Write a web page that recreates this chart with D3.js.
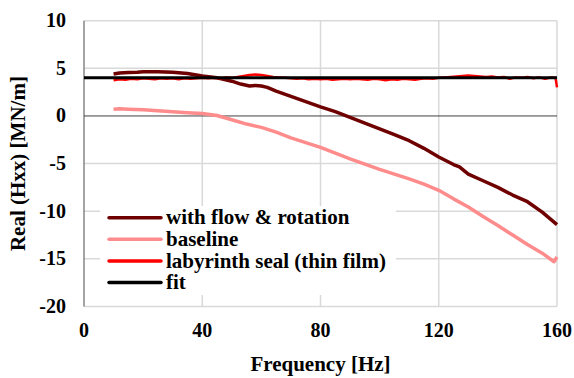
<!DOCTYPE html>
<html>
<head>
<meta charset="utf-8">
<script src="https://cdn.jsdelivr.net/npm/d3@7"></script>
<style>
  body { margin: 0; background: #fff; }
</style>
</head>
<body>
<svg id="chart" width="574" height="378"></svg>
<script>
// x / y ticks
var xTicks = [0, 40, 80, 120, 160];
var yTicks = [-20, -15, -10, -5, 0, 5, 10];

// with flow & rotation
var flowFreq = [10, 12, 15, 18, 20, 25, 30, 35, 40, 45, 50, 53, 56, 58, 60, 62, 65, 70, 75, 80, 85, 90, 95, 100, 105, 110, 115, 120, 125, 127, 130, 135, 140, 145, 150, 155, 160];
var flowVal  = [4.4, 4.5, 4.55, 4.6, 4.65, 4.65, 4.6, 4.45, 4.2, 4.0, 3.65, 3.35, 3.15, 3.2, 3.15, 3.0, 2.6, 2.05, 1.5, 0.95, 0.45, -0.15, -0.75, -1.35, -1.95, -2.6, -3.4, -4.3, -5.1, -5.35, -6.1, -6.8, -7.5, -8.3, -9.0, -10.1, -11.4];

// baseline
var baseFreq = [10, 12, 15, 20, 25, 30, 35, 40, 45, 50, 55, 60, 65, 70, 75, 80, 85, 90, 95, 100, 105, 110, 115, 120, 125, 130, 135, 140, 145, 150, 155, 159, 160];
var baseVal  = [0.7, 0.75, 0.7, 0.65, 0.55, 0.45, 0.35, 0.25, 0.05, -0.4, -0.85, -1.2, -1.7, -2.3, -2.8, -3.3, -3.9, -4.5, -5.05, -5.6, -6.1, -6.6, -7.15, -7.8, -8.7, -9.55, -10.55, -11.5, -12.5, -13.5, -14.4, -15.3, -14.8];

// labyrinth seal (thin film)
var labFreq = [10, 12, 14, 16, 18, 20, 22, 24, 26, 28, 30, 32, 34, 36, 38, 40, 42, 44, 46, 48, 50, 52, 54, 56, 58, 60, 62, 64, 66, 68, 70, 72, 74, 76, 78, 80, 82, 84, 86, 88, 90, 92, 94, 96, 98, 100, 102, 104, 106, 108, 110, 112, 114, 116, 118, 120, 122, 124, 126, 128, 130, 132, 134, 136, 138, 140, 142, 144, 146, 148, 150, 152, 154, 156, 158, 159.5, 160];
var labVal  = [3.75, 3.85, 3.8, 3.9, 3.85, 3.95, 3.9, 3.85, 3.95, 3.9, 3.95, 3.85, 3.95, 3.9, 3.95, 4.0, 3.95, 4.0, 3.95, 4.05, 4.0, 4.1, 4.2, 4.3, 4.35, 4.3, 4.2, 4.1, 4.05, 4.0, 3.95, 3.9, 3.95, 3.85, 3.9, 3.85, 3.9, 3.8, 3.85, 3.9, 3.85, 3.9, 3.85, 3.8, 3.9, 3.85, 3.75, 3.85, 3.8, 3.9, 3.85, 3.8, 3.9, 3.95, 3.9, 4.0, 4.05, 4.1, 4.15, 4.2, 4.25, 4.2, 4.15, 4.1, 4.15, 4.05, 4.1, 3.9, 4.05, 4.0, 4.1, 3.95, 4.05, 3.9, 4.05, 4.0, 3.0];

// fit
var fitFreq = [0, 160];
var fitVal  = [4.0, 4.0];

var legendNames = ["with flow & rotation", "baseline", "labyrinth seal (thin film)", "fit"];
var colors = ["#6e0000", "#ff8c8c", "#ff0000", "#000000"];

var font = "'Liberation Serif', 'Times New Roman', serif";

var svg = d3.select("#chart");

var x = d3.scaleLinear().domain([0, 160]).range([84, 557]);
var y = d3.scaleLinear().domain([-20, 10]).range([306.5, 20.7]);

// grid
svg.append("g").selectAll("line").data(yTicks.filter(function(d) { return d != 0; }))
  .enter().append("line")
  .attr("x1", x(0)).attr("x2", x(160))
  .attr("y1", function(d) { return y(d); }).attr("y2", function(d) { return y(d); })
  .attr("stroke", "#d9d9d9").attr("stroke-width", 1.5);

svg.append("g").selectAll("line").data(xTicks.filter(function(d) { return d != 0; }))
  .enter().append("line")
  .attr("x1", function(d) { return x(d); }).attr("x2", function(d) { return x(d); })
  .attr("y1", y(10)).attr("y2", y(-20))
  .attr("stroke", "#d9d9d9").attr("stroke-width", 1.5);

// axes lines
svg.append("line")
  .attr("x1", x(0)).attr("x2", x(0)).attr("y1", y(10)).attr("y2", y(-20))
  .attr("stroke", "#868686").attr("stroke-width", 1.5);
svg.append("line")
  .attr("x1", x(0)).attr("x2", x(160)).attr("y1", y(0)).attr("y2", y(0))
  .attr("stroke", "#404040").attr("stroke-width", 1);

// tick labels
svg.append("g").selectAll("text").data(yTicks).enter().append("text")
  .attr("x", 66).attr("y", function(d) { return y(d) + 6.5; })
  .attr("text-anchor", "end")
  .attr("font-family", font).attr("font-weight", "bold").attr("font-size", 20)
  .text(function(d) { return d; });

svg.append("g").selectAll("text").data(xTicks).enter().append("text")
  .attr("x", function(d) { return x(d); }).attr("y", 337)
  .attr("text-anchor", "middle")
  .attr("font-family", font).attr("font-weight", "bold").attr("font-size", 20)
  .text(function(d) { return d; });

// axis titles
svg.append("text")
  .attr("x", (x(0) + x(160)) / 2).attr("y", 371)
  .attr("text-anchor", "middle")
  .attr("font-family", font).attr("font-weight", "bold").attr("font-size", 21)
  .text("Frequency [Hz]");

svg.append("text")
  .attr("transform", "translate(24.5," + ((y(10) + y(-20)) / 2) + ") rotate(-90)")
  .attr("text-anchor", "middle")
  .attr("font-family", font).attr("font-weight", "bold").attr("font-size", 21)
  .text("Real (Hxx) [MN/m]");

// legend box
svg.append("rect")
  .attr("x", 100).attr("y", 206).attr("width", 296).attr("height", 89)
  .attr("fill", "#fff");

var line = d3.line()
  .x(function(d) { return x(d[0]); })
  .y(function(d) { return y(d[1]); });

var series = [
  { f: flowFreq, v: flowVal, w: 3.5 },
  { f: baseFreq, v: baseVal, w: 3.5 },
  { f: labFreq, v: labVal, w: 2.5 },
  { f: fitFreq, v: fitVal, w: 3 }
];

series.forEach(function(s, i) {
  svg.append("path")
    .datum(d3.zip(s.f, s.v))
    .attr("d", line)
    .attr("fill", "none")
    .attr("stroke", colors[i])
    .attr("stroke-width", s.w)
    .attr("stroke-linejoin", "round");
});

// legend
var lg = svg.append("g").selectAll("g").data(legendNames).enter().append("g")
  .attr("transform", function(d, i) { return "translate(0," + (217.7 + i * 21.6) + ")"; });
lg.append("line")
  .attr("x1", 109).attr("x2", 161)
  .attr("stroke", function(d, i) { return colors[i]; })
  .attr("stroke-width", 3.5).attr("stroke-linecap", "round");
lg.append("text")
  .attr("x", 166).attr("y", 6.6)
  .attr("font-family", font).attr("font-weight", "bold").attr("font-size", 21)
  .text(function(d) { return d; });
</script>
</body>
</html>
